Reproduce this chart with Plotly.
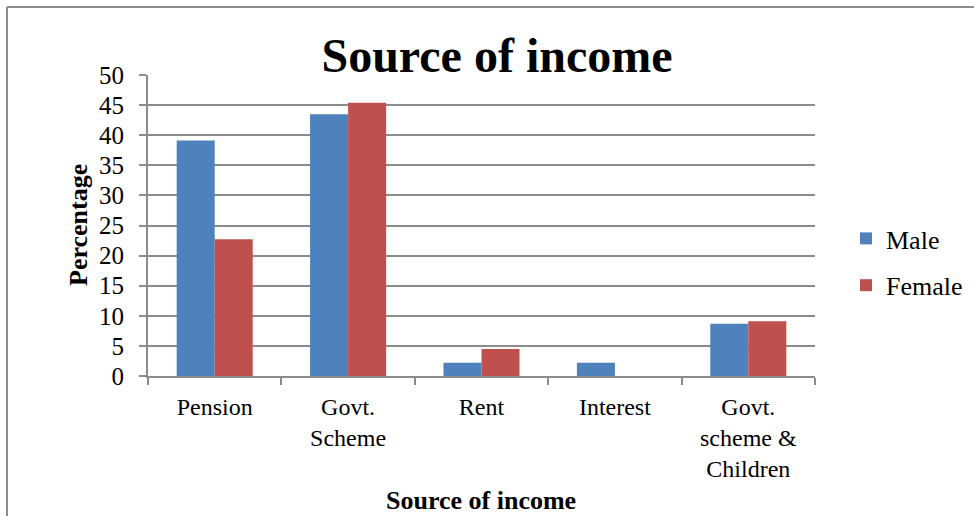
import plotly.graph_objects as go

categories = ["Pension", "Govt.<br>Scheme", "Rent", "Interest", "Govt.<br>scheme &amp;<br>Children"]
male = [39.1, 43.5, 2.2, 2.2, 8.7]
female = [22.7, 45.4, 4.5, 0, 9.1]
y_ticks = [0, 5, 10, 15, 20, 25, 30, 35, 40, 45, 50]

W, H = 974, 516
L, R, T, B = 148, 815, 75, 376

def px_x(p):
    return (p - L) / (R - L)

def px_y(p):
    return (B - p) / (B - T)

font_family = "Liberation Serif, Times New Roman, serif"

fig = go.Figure()
fig.add_trace(go.Bar(name="Male", x=categories, y=male, marker=dict(color="#4F81BD", line=dict(width=0)), legendgroup="m"))
fig.add_trace(go.Bar(name="Female", x=categories, y=female, marker=dict(color="#C0504D", line=dict(width=0)), legendgroup="f"))

fig.update_layout(
    width=W, height=H,
    margin=dict(l=L, r=W - R, t=T, b=H - B, autoexpand=False),
    paper_bgcolor="white", plot_bgcolor="white",
    font=dict(family=font_family, size=24, color="black"),
    barmode="group", bargap=0.43, bargroupgap=0,
    title=dict(text="<b>Source of income</b>", x=497 / W, xanchor="center",
               y=1 - 55 / H, yanchor="middle", yref="container", font=dict(size=48)),
    legend=dict(x=px_x(846), xanchor="left", y=px_y(262), yanchor="middle",
                tracegroupgap=10, font=dict(size=26), itemwidth=30),
    showlegend=True,
)
fig.update_xaxes(
    showline=True, linecolor="#8c8c8c", linewidth=2,
    ticks="outside", tickson="boundaries", ticklen=7, tickcolor="#8c8c8c", tickwidth=2,
    ticklabelstandoff=8, automargin=False, tickfont=dict(size=24), title=None,
)
fig.update_yaxes(
    range=[0, 50], tickvals=y_ticks, showline=True, linecolor="#8c8c8c", linewidth=2,
    ticks="outside", ticklen=7, tickcolor="#8c8c8c", tickwidth=2,
    showgrid=True, gridcolor="#8c8c8c", gridwidth=2, zeroline=False,
    ticklabelstandoff=10, automargin=False, tickfont=dict(size=25), title=None,
)
fig.add_annotation(text="<b>Source of income</b>", xref="paper", yref="paper", x=px_x(481), y=px_y(500),
                   xanchor="center", yanchor="middle", showarrow=False, font=dict(size=26))
fig.add_annotation(text="<b>Percentage</b>", xref="paper", yref="paper", x=px_x(78), y=px_y(225),
                   xanchor="center", yanchor="middle", showarrow=False, textangle=-90, font=dict(size=26))

fig.add_shape(type="line", xref="paper", yref="paper", x0=px_x(7), x1=px_x(990), y0=px_y(7), y1=px_y(7),
              line=dict(color="#8c8c8c", width=2))
fig.add_shape(type="line", xref="paper", yref="paper", x0=px_x(7), x1=px_x(7), y0=px_y(7), y1=px_y(530),
              line=dict(color="#8c8c8c", width=2))

fig.write_html("out.html")
